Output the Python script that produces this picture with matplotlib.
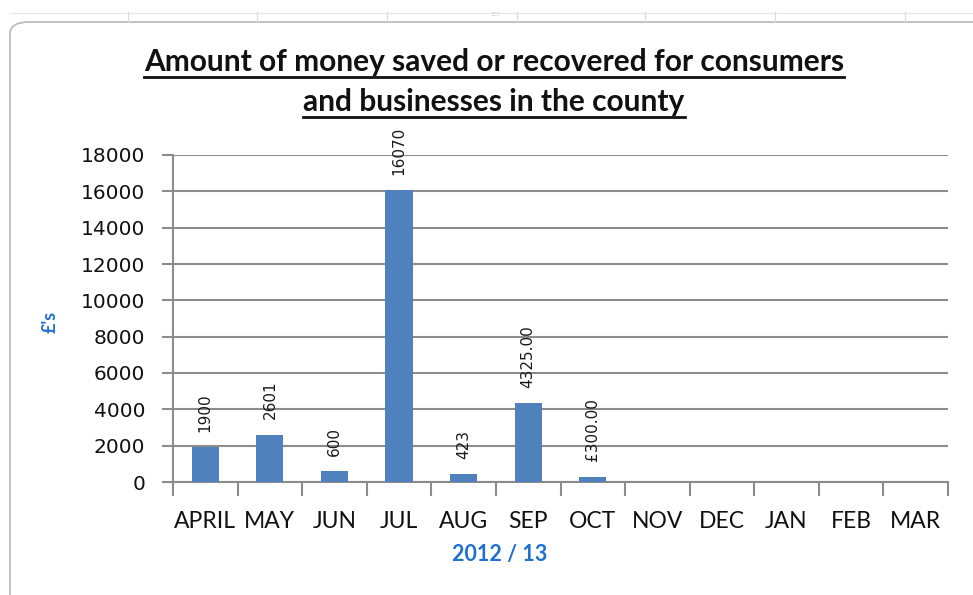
import matplotlib
matplotlib.use("Agg")
import matplotlib.pyplot as plt
from matplotlib.patches import FancyBboxPatch
from matplotlib.lines import Line2D

months = ["APRIL", "MAY", "JUN", "JUL", "AUG", "SEP", "OCT", "NOV", "DEC", "JAN", "FEB", "MAR"]
values = [1900, 2601, 600, 16070, 423, 4325, 300, None, None, None, None, None]
labels = ["1900", "2601", "600", "16070", "423", "4325.00", "£300.00", None, None, None, None, None]
yticks = [0, 2000, 4000, 6000, 8000, 10000, 12000, 14000, 16000, 18000]

W, H = 973, 595
fig = plt.figure(figsize=(W / 100, H / 100), dpi=100)
fig.patch.set_facecolor("white")

# spreadsheet strip at top
for xc in [128, 257, 387, 517, 645, 775, 905]:
    fig.add_artist(Line2D([xc / W, xc / W], [1 - 12 / H, 1 - 22 / H], color="#d8d8d8", lw=0.8))
fig.add_artist(Line2D([10 / W, 1], [1 - 13 / H, 1 - 13 / H], color="#e4e4e4", lw=0.8))
fig.text(495 / W, 1 - 14 / H, "::::", fontsize=5, color="#b0b0b0", ha="center", va="center")

# chart area frame
frame = FancyBboxPatch((10 / W, -0.05), 1.2, 1 - 22 / H + 0.05,
                       boxstyle="round,pad=0,rounding_size=0.02",
                       transform=fig.transFigure, facecolor="white",
                       edgecolor="#b8b8b8", lw=1.2, zorder=0)
fig.add_artist(frame)

ax = fig.add_axes([173 / W, 1 - 482 / H, (948 - 173) / W, (482 - 155) / H])
ax.set_facecolor("none")
x = list(range(len(months)))
bar_x = [i for i, v in enumerate(values) if v is not None]
bar_v = [v for v in values if v is not None]
ax.bar(bar_x, bar_v, width=0.42, color="#4f81bd", zorder=3)

for i, v in enumerate(values):
    if v is None:
        continue
    ax.annotate(labels[i], (i, v), xytext=(0, 11), textcoords="offset points",
                rotation=90, ha="center", va="bottom", fontsize=11,
                family="DejaVu Sans", color="#1a1a1a", annotation_clip=False)

ax.set_xlim(-0.5, 11.5)
ax.set_ylim(0, 18000)
ax.set_yticks(yticks)
ax.set_yticklabels([str(t) for t in yticks], fontsize=14.5, family="DejaVu Sans", color="#111111")
ax.yaxis.grid(True, color="#8c8c8c", lw=1.5, zorder=0)
ax.set_axisbelow(True)

ax.set_xticks([i - 0.5 for i in range(13)], minor=False)
ax.set_xticklabels([])
ax.set_xticks(x, minor=True)
ax.set_xticklabels(months, minor=True, fontsize=16.5, family="Lato", color="#111111")
ax.tick_params(axis="x", which="minor", length=0, pad=21)
ax.tick_params(axis="x", which="major", length=10, width=1.5, color="#8c8c8c")
ax.tick_params(axis="y", length=8, width=1.5, color="#8c8c8c", pad=12)

for s in ["top", "right"]:
    ax.spines[s].set_visible(False)
ax.spines["left"].set_color("#8c8c8c")
ax.spines["left"].set_linewidth(1.5)
ax.spines["bottom"].set_color("#8c8c8c")
ax.spines["bottom"].set_linewidth(1.5)

fig.text(500 / W, 1 - 555 / H, "2012 / 13", fontsize=15.5, family="Lato", fontweight="bold",
         color="#2070d0", ha="center", va="center")
fig.text(50 / W, 1 - 322 / H, "£'s", rotation=90, fontsize=13, family="Lato", fontweight="bold",
         color="#2070d0", ha="center", va="center")

title_kw = dict(fontsize=21.5, family="Lato", fontweight="bold", color="#111111", ha="center", va="center")
t1 = fig.text(494 / W, 1 - 62 / H, "Amount of money saved or recovered for consumers", **title_kw)
t2 = fig.text(494 / W, 1 - 102 / H, "and businesses in the county", **title_kw)

fig.canvas.draw()
r = fig.canvas.get_renderer()
for t in (t1, t2):
    bb = t.get_window_extent(r)
    yline = bb.y0 - 1
    fig.add_artist(Line2D([bb.x0 / W, bb.x1 / W], [yline / H, yline / H], color="#111111", lw=2))

fig.savefig("out.png", dpi=100)
